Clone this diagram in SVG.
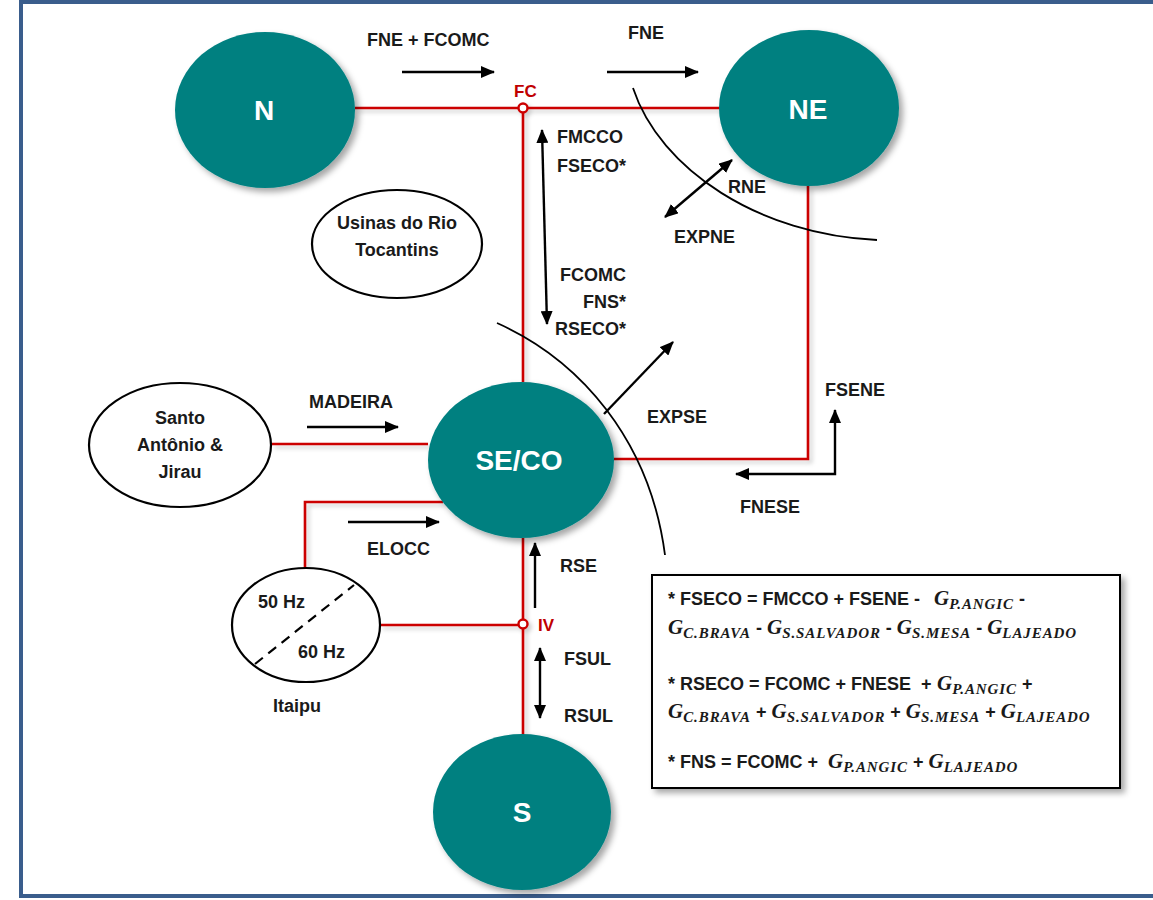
<svg xmlns="http://www.w3.org/2000/svg" width="1153" height="900" viewBox="0 0 1153 900">
  <defs>
    <filter id="shadow" x="-20%" y="-20%" width="150%" height="150%">
      <feDropShadow dx="4" dy="4" stdDeviation="3" flood-color="#000" flood-opacity="0.35"/>
    </filter>
    <filter id="lineShadow" x="-10%" y="-10%" width="130%" height="130%">
      <feDropShadow dx="3" dy="3" stdDeviation="2" flood-color="#000" flood-opacity="0.2"/>
    </filter>
    <marker id="ah" viewBox="0 0 14 12" refX="13" refY="6" markerWidth="14" markerHeight="12" markerUnits="userSpaceOnUse" orient="auto-start-reverse">
      <path d="M0,0 L14,6 L0,12 z" fill="#000"/>
    </marker>
    <style>
      .lbl { font-family: "Liberation Sans", Arial, sans-serif; font-weight: bold; font-size: 18px; fill: #1a1a1a; }
      .red { fill: #c00000; font-size: 17px; }
      .node { fill: #008080; filter: url(#shadow); }
      .nlbl { font-family: "Liberation Sans", Arial, sans-serif; font-weight: bold; font-size: 28px; fill: #fff; text-anchor: middle; }
      .plant { fill: #fff; stroke: #000; stroke-width: 2.2; }
      .link { fill: none; stroke: #cc0000; stroke-width: 2.6; }
      .arr { fill: none; stroke: #000; stroke-width: 2.4; }
      .cut { fill: none; stroke: #000; stroke-width: 1.8; }
      .eq { font-family: "Liberation Sans", Arial, sans-serif; font-weight: bold; font-size: 18px; fill: #1a1a1a; white-space: pre; }
      .g { font-family: "Liberation Serif", "Times New Roman", serif; font-style: italic; font-size: 21px; }
      .sub { font-family: "Liberation Serif", "Times New Roman", serif; font-style: italic; font-size: 15px; letter-spacing: 0.9px; }
    </style>
  </defs>

  <!-- page frame -->
  <rect x="0" y="0" width="1153" height="900" fill="#fff"/>
  <rect x="21" y="2" width="1150" height="894" fill="#fff" stroke="#3a5d8c" stroke-width="4"/>

  <!-- transmission links -->
  <g id="connectors">
    <g filter="url(#lineShadow)">
      <path class="link" d="M355 108 H720"/>
      <path class="link" d="M523 108 V382"/>
      <path class="link" d="M523 538 V735"/>
      <path class="link" d="M808 186 V459 H614"/>
      <path class="link" d="M272 444 H428"/>
      <path class="link" d="M443 502 H305 V569"/>
      <path class="link" d="M380 625 H523"/>
      <circle cx="523" cy="108" r="4.5" fill="#fff" stroke="#cc0000" stroke-width="2.4"/>
      <circle cx="523" cy="624" r="4.5" fill="#fff" stroke="#cc0000" stroke-width="2.4"/>
    </g>
    <!-- flow arrows -->
    <path class="arr" d="M402 72 H494" marker-end="url(#ah)"/>
    <path class="arr" d="M607 72 H698" marker-end="url(#ah)"/>
    <path class="arr" d="M542 130 L547 324" marker-start="url(#ah)" marker-end="url(#ah)"/>
    <path class="arr" d="M732 160 L665 217" marker-start="url(#ah)" marker-end="url(#ah)"/>
    <path class="arr" d="M604 414 L673 342" marker-end="url(#ah)"/>
    <path class="arr" d="M736 474 H835 V410" marker-start="url(#ah)" marker-end="url(#ah)"/>
    <path class="arr" d="M307 427 H398" marker-end="url(#ah)"/>
    <path class="arr" d="M348 522 H439" marker-end="url(#ah)"/>
    <path class="arr" d="M535 608 V543" marker-end="url(#ah)"/>
    <path class="arr" d="M540 648 V718" marker-start="url(#ah)" marker-end="url(#ah)"/>
    <!-- section cuts -->
    <path class="cut" d="M633 88 C660 170 760 235 877 240"/>
    <path class="cut" d="M497 323 C580 360 650 440 665 555"/>
  </g>

  <!-- subsystems -->
  <g id="node-N">
    <ellipse class="node" cx="265" cy="110" rx="90" ry="78"/>
    <text class="nlbl" x="264" y="120">N</text>
  </g>
  <g id="node-NE">
    <ellipse class="node" cx="809" cy="108" rx="90" ry="78"/>
    <text class="nlbl" x="808" y="119">NE</text>
  </g>
  <g id="node-SECO">
    <ellipse class="node" cx="521" cy="460" rx="93" ry="78"/>
    <text class="nlbl" x="519" y="470">SE/CO</text>
  </g>
  <g id="node-S">
    <ellipse class="node" cx="522" cy="812" rx="89" ry="78"/>
    <text class="nlbl" x="522" y="822">S</text>
  </g>

  <!-- plants -->
  <g id="node-tocantins">
    <ellipse class="plant" cx="397" cy="244" rx="85" ry="54"/>
    <text class="lbl" x="397" y="229" text-anchor="middle">Usinas do Rio</text>
    <text class="lbl" x="397" y="256" text-anchor="middle">Tocantins</text>
  </g>
  <g id="node-madeira">
    <ellipse class="plant" cx="180" cy="445" rx="91" ry="62"/>
    <text class="lbl" x="180" y="424" text-anchor="middle">Santo</text>
    <text class="lbl" x="180" y="451" text-anchor="middle">Antônio &amp;</text>
    <text class="lbl" x="180" y="478" text-anchor="middle">Jirau</text>
  </g>
  <g id="node-itaipu">
    <ellipse class="plant" cx="306" cy="625" rx="74" ry="57"/>
    <path d="M255 664 L354 585" fill="none" stroke="#000" stroke-width="2.2" stroke-dasharray="10 7"/>
    <text class="lbl" x="258" y="608">50 Hz</text>
    <text class="lbl" x="298" y="658">60 Hz</text>
    <text class="lbl" x="273" y="712">Itaipu</text>
  </g>

  <!-- junctions and flow labels -->
  <g id="labels">
    <text class="lbl red" x="514" y="97">FC</text>
    <text class="lbl red" x="538" y="631">IV</text>
    <text class="lbl" x="367" y="46">FNE + FCOMC</text>
    <text class="lbl" x="628" y="39">FNE</text>
    <text class="lbl" x="557" y="143">FMCCO</text>
    <text class="lbl" x="557" y="172">FSECO*</text>
    <text class="lbl" x="626" y="281" text-anchor="end">FCOMC</text>
    <text class="lbl" x="626" y="308" text-anchor="end">FNS*</text>
    <text class="lbl" x="626" y="335" text-anchor="end">RSECO*</text>
    <text class="lbl" x="728" y="193">RNE</text>
    <text class="lbl" x="674" y="243">EXPNE</text>
    <text class="lbl" x="647" y="423">EXPSE</text>
    <text class="lbl" x="825" y="396">FSENE</text>
    <text class="lbl" x="740" y="513">FNESE</text>
    <text class="lbl" x="309" y="408">MADEIRA</text>
    <text class="lbl" x="367" y="555">ELOCC</text>
    <text class="lbl" x="560" y="572">RSE</text>
    <text class="lbl" x="564" y="665">FSUL</text>
    <text class="lbl" x="564" y="722">RSUL</text>
  </g>

  <!-- definitions box -->
  <g id="legend">
    <rect x="652" y="575" width="468" height="213" fill="#fff" stroke="#000" stroke-width="2" filter="url(#shadow)"/>
    <text class="eq" x="668" y="605">* FSECO = FMCCO + FSENE - <tspan class="g" x="934">G</tspan><tspan class="sub" dy="4">P.ANGIC</tspan><tspan dy="-4"> -</tspan></text>
    <text class="eq" x="668" y="634"><tspan class="g">G</tspan><tspan class="sub" dy="4">C.BRAVA</tspan><tspan dy="-4"> - </tspan><tspan class="g">G</tspan><tspan class="sub" dy="4">S.SALVADOR</tspan><tspan dy="-4"> - </tspan><tspan class="g">G</tspan><tspan class="sub" dy="4">S.MESA</tspan><tspan dy="-4"> - </tspan><tspan class="g">G</tspan><tspan class="sub" dy="4">LAJEADO</tspan></text>

    <text class="eq" x="668" y="690">* RSECO = FCOMC + FNESE  + <tspan class="g" x="937">G</tspan><tspan class="sub" dy="4">P.ANGIC</tspan><tspan dy="-4"> +</tspan></text>
    <text class="eq" x="668" y="718"><tspan class="g">G</tspan><tspan class="sub" dy="4">C.BRAVA</tspan><tspan dy="-4"> + </tspan><tspan class="g">G</tspan><tspan class="sub" dy="4">S.SALVADOR</tspan><tspan dy="-4"> + </tspan><tspan class="g">G</tspan><tspan class="sub" dy="4">S.MESA</tspan><tspan dy="-4"> + </tspan><tspan class="g">G</tspan><tspan class="sub" dy="4">LAJEADO</tspan></text>

    <text class="eq" x="668" y="768">* FNS = FCOMC + <tspan class="g" x="828">G</tspan><tspan class="sub" dy="4">P.ANGIC</tspan><tspan dy="-4"> + </tspan><tspan class="g">G</tspan><tspan class="sub" dy="4">LAJEADO</tspan></text>
  </g>
</svg>
